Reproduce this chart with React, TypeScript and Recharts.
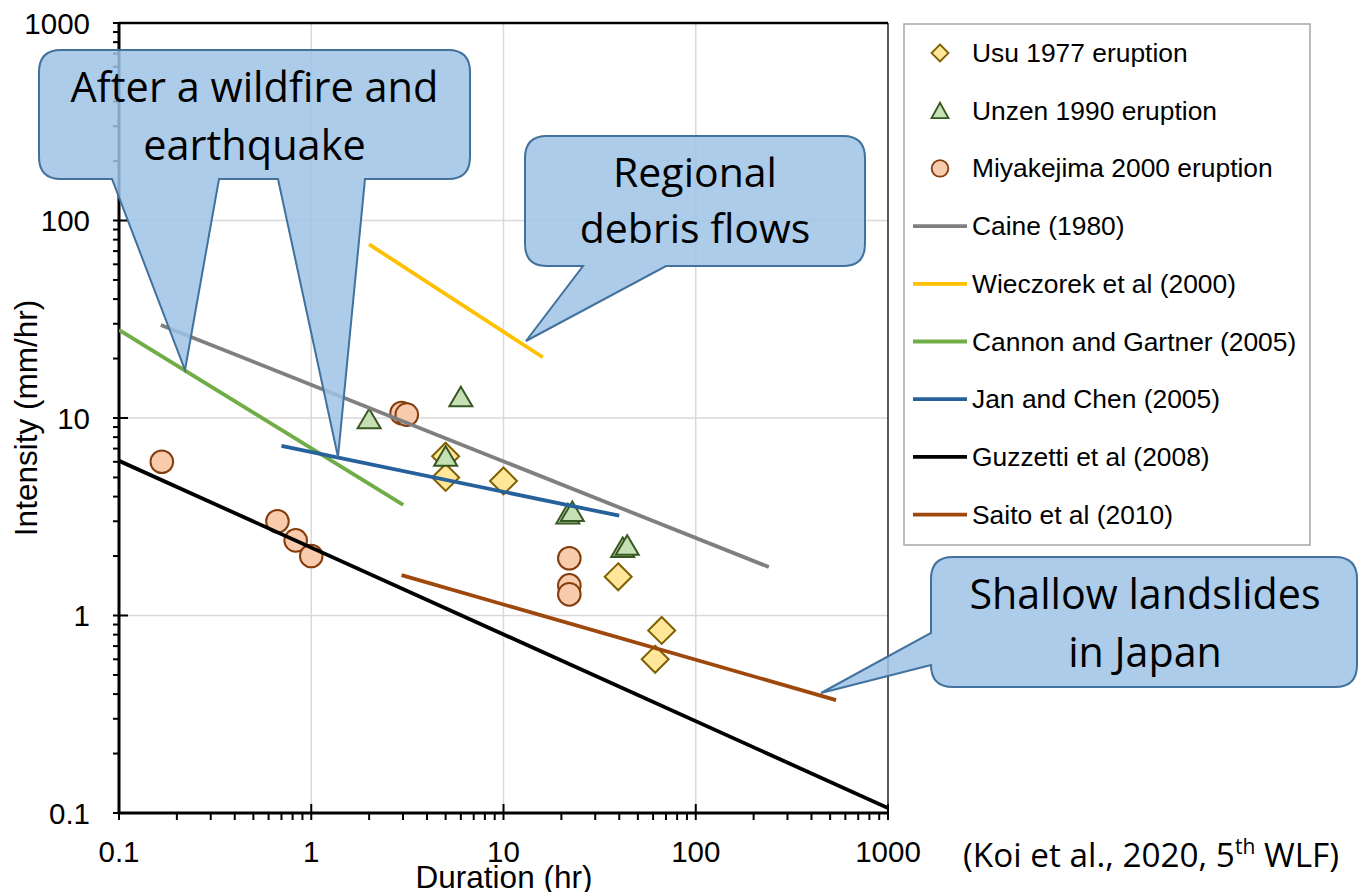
import React from 'react';
import { ScatterChart, Scatter, XAxis, YAxis, CartesianGrid, ReferenceLine } from 'recharts';

// ---------- axis ticks ----------
const majorTicks = [0.1, 1, 10, 100, 1000];
const minorTicks = [
  0.2, 0.3, 0.4, 0.5, 0.6, 0.7, 0.8, 0.9,
  2, 3, 4, 5, 6, 7, 8, 9,
  20, 30, 40, 50, 60, 70, 80, 90,
  200, 300, 400, 500, 600, 700, 800, 900,
];
const allTicks = [...majorTicks, ...minorTicks].sort((a, b) => a - b);
const gridValues = [1, 10, 100];

// ---------- observed events ----------
const usu1977 = [
  { x: 5, y: 6.4 },
  { x: 5, y: 5.0 },
  { x: 10, y: 4.8 },
  { x: 39.5, y: 1.57 },
  { x: 66.5, y: 0.84 },
  { x: 61.5, y: 0.6 },
];
const unzen1990 = [
  { x: 2, y: 9.9 },
  { x: 6, y: 12.8 },
  { x: 5, y: 6.4 },
  { x: 21.6, y: 3.27 },
  { x: 22.8, y: 3.36 },
  { x: 41.7, y: 2.21 },
  { x: 44, y: 2.27 },
];
const miyakejima2000 = [
  { x: 0.167, y: 6.0 },
  { x: 0.667, y: 3.0 },
  { x: 0.83, y: 2.4 },
  { x: 1.0, y: 2.0 },
  { x: 2.95, y: 10.6 },
  { x: 3.14, y: 10.4 },
  { x: 22, y: 1.95 },
  { x: 22, y: 1.42 },
  { x: 22, y: 1.28 },
];

// ---------- I-D thresholds ----------
const caine1980 = [
  { x: 0.165, y: 29.6 },
  { x: 240, y: 1.76 },
];
const wieczorek2000 = [
  { x: 2, y: 75.7 },
  { x: 16, y: 20.3 },
];
const cannonGartner2005 = [
  { x: 0.1, y: 27.9 },
  { x: 3.01, y: 3.63 },
];
const janChen2005 = [
  { x: 0.7, y: 7.22 },
  { x: 40, y: 3.2 },
];
const guzzetti2008 = [
  { x: 0.1, y: 6.07 },
  { x: 1000, y: 0.106 },
];
const saito2010 = [
  { x: 2.95, y: 1.6 },
  { x: 537, y: 0.373 },
];

const seriesNames = [
  'Usu 1977 eruption',
  'Unzen 1990 eruption',
  'Miyakejima 2000 eruption',
  'Caine (1980)',
  'Wieczorek et al (2000)',
  'Cannon and Gartner (2005)',
  'Jan and Chen (2005)',
  'Guzzetti et al (2008)',
  'Saito et al (2010)',
];
const lineColors = ['#7F7F7F', '#FFC000', '#70AD47', '#26619C', '#000000', '#9E480E'];

const AX_FONT = '"Liberation Sans", Arial, sans-serif';
const CALL_FONT = '"Open Sans", "Noto Sans", sans-serif';

const fmtTick = (v: number) => String(v);

const XTick = (props: any) => {
  const { x, y, payload } = props;
  const v = payload.value;
  const isMajor = majorTicks.includes(v);
  return (
    <g>
      <line x1={x} x2={x} y1={isMajor ? y - 9 : y} y2={y + 7} stroke="#000" strokeWidth={2} />
      {isMajor && (
        <text x={x} y={y + 49} textAnchor="middle" fontSize={29.5} fontFamily={AX_FONT} fill="#000">
          {fmtTick(v)}
        </text>
      )}
    </g>
  );
};

const YTick = (props: any) => {
  const { x, y, payload } = props;
  const v = payload.value;
  const isMajor = majorTicks.includes(v);
  return (
    <g>
      <line x1={x - 6} x2={isMajor ? x + 9 : x} y1={y} y2={y} stroke="#000" strokeWidth={2} />
      {isMajor && (
        <text x={x - 29} y={y + 10.5} textAnchor="end" fontSize={29.5} fontFamily={AX_FONT} fill="#000">
          {fmtTick(v)}
        </text>
      )}
    </g>
  );
};

const DiamondShape = (p: any) => {
  const { cx, cy } = p;
  const h = 13.5;
  return (
    <path
      d={`M${cx},${cy - h} L${cx + h},${cy} L${cx},${cy + h} L${cx - h},${cy} Z`}
      fill="#FFE699"
      stroke="#7F6000"
      strokeWidth={2}
    />
  );
};
const TriangleShape = (p: any) => {
  const { cx, cy } = p;
  return (
    <path
      d={`M${cx},${cy - 10} L${cx + 11.5},${cy + 9.5} L${cx - 11.5},${cy + 9.5} Z`}
      fill="#C5E0B4"
      stroke="#385723"
      strokeWidth={2}
    />
  );
};
const CircleShape = (p: any) => {
  const { cx, cy } = p;
  return <circle cx={cx} cy={cy} r={11.3} fill="#F8CBAD" stroke="#843C0C" strokeWidth={2} />;
};
const NoShape = () => <g />;

const lineSeries = [caine1980, wieczorek2000, cannonGartner2005, janChen2005, guzzetti2008, saito2010];

const calloutStyle = {
  fill: '#9DC3E6',
  fillOpacity: 0.85,
  stroke: '#41719C',
  strokeWidth: 2,
};

export default function App() {
  const legendTop = 53;
  const legendStep = 57.7;
  return (
    <div style={{ position: 'absolute', left: 0, top: 0, width: 1358, height: 892, background: '#fff' }}>
      <ScatterChart width={1358} height={892} margin={{ top: 23, right: 470, bottom: 49, left: 59 }}>
        <CartesianGrid
          stroke="#D9D9D9"
          strokeWidth={1.5}
          horizontalValues={gridValues}
          verticalValues={gridValues}
        />
        <XAxis
          type="number"
          dataKey="x"
          scale="log"
          domain={[0.1, 1000]}
          allowDataOverflow
          ticks={allTicks}
          interval={0}
          height={30}
          tickSize={0}
          tickMargin={0}
          tickLine={false}
          axisLine={{ stroke: '#000', strokeWidth: 3 }}
          tick={<XTick />}
        />
        <YAxis
          type="number"
          dataKey="y"
          scale="log"
          domain={[0.1, 1000]}
          allowDataOverflow
          ticks={allTicks}
          interval={0}
          width={60}
          tickSize={0}
          tickMargin={0}
          tickLine={false}
          axisLine={{ stroke: '#000', strokeWidth: 3 }}
          tick={<YTick />}
        />
        <ReferenceLine y={1000} stroke="#000" strokeWidth={2.5} ifOverflow="visible" />
        <ReferenceLine x={1000} stroke="#000" strokeWidth={1.3} ifOverflow="visible" />

        <Scatter name={seriesNames[0]} data={usu1977} shape={DiamondShape} isAnimationActive={false} />
        <Scatter name={seriesNames[1]} data={unzen1990} shape={TriangleShape} isAnimationActive={false} />
        <Scatter name={seriesNames[2]} data={miyakejima2000} shape={CircleShape} isAnimationActive={false} />

        {lineSeries.map((d, i) => (
          <Scatter
            key={seriesNames[i + 3]}
            name={seriesNames[i + 3]}
            data={d}
            shape={NoShape}
            line={{ stroke: lineColors[i], strokeWidth: 3.8 }}
            lineType="joint"
            isAnimationActive={false}
          />
        ))}
      </ScatterChart>

      <svg
        width={1358}
        height={892}
        style={{ position: 'absolute', left: 0, top: 0, pointerEvents: 'none' }}
      >
        {/* axis titles */}
        <text
          transform="translate(37,418) rotate(-90)"
          textAnchor="middle"
          fontSize={31.5}
          fontFamily={AX_FONT}
          fill="#000"
        >
          Intensity (mm/hr)
        </text>
        <text x={504} y={888} textAnchor="middle" fontSize={31.5} fontFamily={AX_FONT} fill="#000">
          Duration (hr)
        </text>

        {/* legend */}
        <rect x={904} y={24} width={406} height={521} fill="#fff" stroke="#A6A6A6" strokeWidth={1.5} />
        {seriesNames.map((name, i) => {
          const cy = legendTop + i * legendStep;
          let icon: React.ReactNode = null;
          if (i === 0) {
            icon = (
              <path
                d={`M940,${cy - 8.5} L948.5,${cy} L940,${cy + 8.5} L931.5,${cy} Z`}
                fill="#FFE699"
                stroke="#7F6000"
                strokeWidth={1.8}
              />
            );
          } else if (i === 1) {
            icon = (
              <path
                d={`M940,${cy - 8} L948.5,${cy + 7.5} L931.5,${cy + 7.5} Z`}
                fill="#C5E0B4"
                stroke="#385723"
                strokeWidth={1.8}
              />
            );
          } else if (i === 2) {
            icon = <circle cx={940} cy={cy} r={8.3} fill="#F8CBAD" stroke="#843C0C" strokeWidth={1.8} />;
          } else {
            icon = <line x1={913} x2={967} y1={cy} y2={cy} stroke={lineColors[i - 3]} strokeWidth={3.8} />;
          }
          return (
            <g key={name}>
              {icon}
              <text x={972} y={cy + 9} fontSize={26.4} fontFamily={AX_FONT} fill="#000">
                {name}
              </text>
            </g>
          );
        })}

        {/* callouts */}
        <path
          d="M61,50 H448 Q470,50 470,72 V157 Q470,179 448,179 H365 L338,457 L278,179 H219 L185,370 L112,179 H61 Q39,179 39,157 V72 Q39,50 61,50 Z"
          {...calloutStyle}
        />
        <text x={254.5} y={101.7} textAnchor="middle" fontSize={41.5} fontFamily={CALL_FONT} fill="#000">
          After a wildfire and
        </text>
        <text x={254.5} y={160} textAnchor="middle" fontSize={41.5} fontFamily={CALL_FONT} fill="#000">
          earthquake
        </text>

        <path
          d="M547,136 H843 Q865,136 865,158 V244 Q865,266 843,266 H666 L526,341 L583,266 H547 Q525,266 525,244 V158 Q525,136 547,136 Z"
          {...calloutStyle}
        />
        <text x={695} y={186.7} textAnchor="middle" fontSize={41} fontFamily={CALL_FONT} fill="#000">
          Regional
        </text>
        <text x={695} y={243.3} textAnchor="middle" fontSize={41} fontFamily={CALL_FONT} fill="#000">
          debris flows
        </text>

        <path
          d="M953,557 H1335 Q1357,557 1357,579 V665 Q1357,687 1335,687 H953 Q931,687 931,665 L821,693 L931,633 V579 Q931,557 953,557 Z"
          {...calloutStyle}
        />
        <text x={1145} y={609} textAnchor="middle" fontSize={41.2} fontFamily={CALL_FONT} fill="#000">
          Shallow landslides
        </text>
        <text x={1145} y={666.7} textAnchor="middle" fontSize={41.2} fontFamily={CALL_FONT} fill="#000">
          in Japan
        </text>

        {/* citation */}
        <text x={963} y={867} fontSize={33.3} fontFamily={CALL_FONT} fill="#000">
          (Koi et al., 2020, 5
          <tspan dy={-13} fontSize={21}>
            th
          </tspan>
          <tspan dy={13}> WLF)</tspan>
        </text>
      </svg>
    </div>
  );
}
